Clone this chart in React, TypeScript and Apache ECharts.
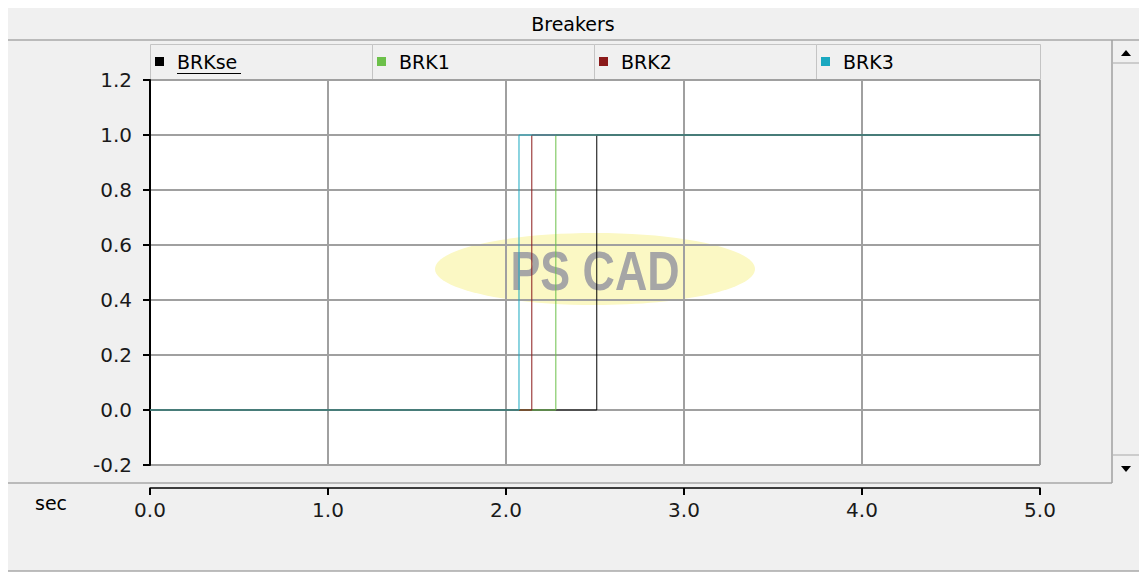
import React, { useEffect, useRef } from "react";
import * as echarts from "echarts";

const seriesNames = ["BRKse", "BRK1", "BRK2", "BRK3"];
const seriesColors = ["#000000", "#6cc04a", "#8b1a1a", "#1aa8c0"];
const switchTimes = [2.51, 2.28, 2.145, 2.073];
const levelBefore = [0, 0, 0, 0];
const levelAfter = [1, 1, 1, 1];
const timeStart = 0;
const timeEnd = 5;
const yTicks = { min: -0.2, max: 1.2, interval: 0.2 };
const xTicks = { min: 0, max: 5, interval: 1 };

const FONT = '"DejaVu Sans", Verdana, sans-serif';

export default function App() {
  const ref = useRef<HTMLDivElement>(null);
  useEffect(() => {
    if (!ref.current) return;
    const chart = echarts.init(ref.current, undefined, { renderer: "svg" });

    const series: any[] = seriesNames.map((name, i) => ({
      name,
      type: "line",
      xAxisIndex: 0,
      yAxisIndex: 0,
      showSymbol: false,
      symbol: "none",
      lineStyle: { color: seriesColors[i], width: 1 },
      itemStyle: { color: seriesColors[i] },
      data: [
        [timeStart, levelBefore[i]],
        [switchTimes[i], levelBefore[i]],
        [switchTimes[i], levelAfter[i]],
        [timeEnd, levelAfter[i]],
      ],
      z: 3,
    }));
    series.push({ type: "line", xAxisIndex: 1, yAxisIndex: 1, data: [], symbol: "none" });

    const legendX = [150, 372, 594, 816, 1040];
    const legendEls: any[] = [];
    seriesNames.forEach((name, i) => {
      legendEls.push({
        type: "rect",
        shape: { x: legendX[i] + 0.5, y: 44.5, width: legendX[i + 1] - legendX[i], height: 35 },
        style: { fill: "#f0f0f0", stroke: "#c4c4c4", lineWidth: 1 },
        z: -5,
      });
      legendEls.push({
        type: "rect",
        shape: { x: legendX[i] + 5, y: 57, width: 9, height: 9 },
        style: { fill: seriesColors[i] },
        z: -4,
      });
      legendEls.push({
        type: "text",
        x: legendX[i] + 27,
        y: 62,
        style: { text: name, font: `19px ${FONT}`, fill: "#000", verticalAlign: "middle", align: "left" },
        z: -4,
      });
    });
    legendEls.push({
      type: "line",
      shape: { x1: 177, y1: 73.5, x2: 241, y2: 73.5 },
      style: { stroke: "#000", lineWidth: 1 },
      z: -4,
    });

    const option: any = {
      animation: false,
      backgroundColor: "#ffffff",
      grid: [
        { left: 150, top: 80, width: 890, height: 385, containLabel: false },
        { left: 150, top: 487, width: 890, height: 1, containLabel: false },
      ],
      xAxis: [
        {
          type: "value",
          gridIndex: 0,
          min: xTicks.min,
          max: xTicks.max,
          interval: xTicks.interval,
          axisLine: { show: false },
          axisTick: { show: false },
          axisLabel: { show: false },
          splitLine: { show: true, lineStyle: { color: "#a0a0a0", width: 2 } },
        },
        {
          type: "value",
          gridIndex: 1,
          min: xTicks.min,
          max: xTicks.max,
          interval: xTicks.interval,
          position: "bottom",
          axisLine: { show: true, onZero: false, lineStyle: { color: "#000", width: 1.5 } },
          axisTick: { show: true, length: 7, lineStyle: { color: "#000", width: 2 } },
          axisLabel: {
            show: true,
            margin: 12,
            fontFamily: FONT,
            fontSize: 20,
            color: "#1a1a1a",
            formatter: (v: number) => v.toFixed(1),
          },
          splitLine: { show: false },
        },
      ],
      yAxis: [
        {
          type: "value",
          gridIndex: 0,
          min: yTicks.min,
          max: yTicks.max,
          interval: yTicks.interval,
          axisLine: { show: true, onZero: false, lineStyle: { color: "#000", width: 2 } },
          axisTick: { show: true, length: 7, lineStyle: { color: "#000", width: 2 } },
          axisLabel: {
            show: true,
            margin: 18,
            fontFamily: FONT,
            fontSize: 20,
            color: "#1a1a1a",
            formatter: (v: number) => v.toFixed(1),
          },
          splitLine: { show: true, lineStyle: { color: "#a0a0a0", width: 2 } },
        },
        {
          type: "value",
          gridIndex: 1,
          min: 0,
          max: 1,
          show: false,
        },
      ],
      graphic: [
        {
          type: "group",
          z: -20,
          children: [
            { type: "rect", shape: { x: 8, y: 8, width: 1131, height: 563 }, style: { fill: "#f0f0f0" }, z: -20 },
            { type: "line", shape: { x1: 8, y1: 40, x2: 1139, y2: 40 }, style: { stroke: "#a8a8a8", lineWidth: 1.5 }, z: -19 },
            { type: "line", shape: { x1: 8, y1: 483, x2: 1112, y2: 483 }, style: { stroke: "#a8a8a8", lineWidth: 1.5 }, z: -19 },
            { type: "line", shape: { x1: 8, y1: 571, x2: 1139, y2: 571 }, style: { stroke: "#a8a8a8", lineWidth: 1.5 }, z: -19 },
            { type: "line", shape: { x1: 1112, y1: 40, x2: 1112, y2: 483 }, style: { stroke: "#a0a0a0", lineWidth: 1.5 }, z: -19 },
            { type: "line", shape: { x1: 1113, y1: 63, x2: 1139, y2: 63 }, style: { stroke: "#a8a8a8", lineWidth: 1 }, z: -19 },
            { type: "line", shape: { x1: 1113, y1: 455, x2: 1139, y2: 455 }, style: { stroke: "#a8a8a8", lineWidth: 1 }, z: -19 },
            { type: "polygon", shape: { points: [[1121, 56], [1131, 56], [1126, 50]] }, style: { fill: "#000" }, z: -19 },
            { type: "polygon", shape: { points: [[1121, 466], [1131, 466], [1126, 472]] }, style: { fill: "#000" }, z: -19 },
            { type: "rect", shape: { x: 150, y: 80, width: 890, height: 385 }, style: { fill: "#ffffff" }, z: -18 },
            { type: "ellipse", shape: { cx: 595, cy: 269, rx: 160, ry: 36 }, style: { fill: "#fbf8c4" }, z: -17 },
            {
              type: "text",
              x: 595,
              y: 271,
              scaleX: 0.8,
              style: {
                text: "PS CAD",
                font: 'bold 56px "Liberation Sans", Arial, sans-serif',
                fill: "#a6a6a6",
                align: "center",
                verticalAlign: "middle",
              },
              z: -16,
            },
            {
              type: "text",
              x: 573,
              y: 24,
              style: { text: "Breakers", font: `19px ${FONT}`, fill: "#000", align: "center", verticalAlign: "middle" },
              z: -15,
            },
            {
              type: "text",
              x: 35,
              y: 503,
              style: { text: "sec", font: `19px ${FONT}`, fill: "#000", align: "left", verticalAlign: "middle" },
              z: -15,
            },
            ...legendEls,
          ],
        },
      ],
      series,
    };
    chart.setOption(option);
    return () => chart.dispose();
  }, []);
  return (
    <div
      ref={ref}
      style={{ position: "absolute", left: 0, top: 0, width: 1139, height: 574 }}
    />
  );
}
